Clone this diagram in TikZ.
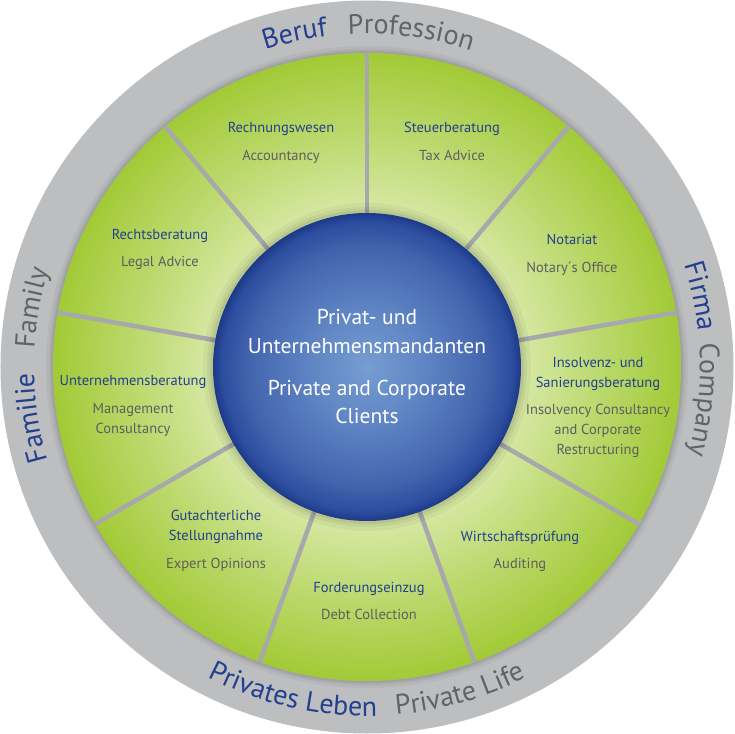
\documentclass[tikz,border=0pt]{standalone}
\usepackage{fontspec}
\setmainfont{PT Sans}
\usetikzlibrary{decorations.text}
\definecolor{ringgray}{HTML}{BDBEC0}
\definecolor{divgray}{HTML}{A6A8AB}
\definecolor{gpale}{HTML}{D6E8A3}
\definecolor{gmid}{HTML}{BEDA72}
\definecolor{ggreen}{HTML}{A2CA36}
\definecolor{bcenter}{HTML}{779DD2}
\definecolor{bmid}{HTML}{5D83C3}
\definecolor{bmid2}{HTML}{4465AE}
\definecolor{bedge2}{HTML}{2D4D9E}
\definecolor{bedge}{HTML}{1D3A8A}
\definecolor{titleblue}{HTML}{233F8F}
\definecolor{subgray}{HTML}{5D5E60}
\definecolor{ringtextgray}{HTML}{626365}
\pgfdeclareradialshading{greenring}{\pgfpointorigin}{color(0bp)=(gpale);color(12.6bp)=(gpale);color(18bp)=(gmid);color(25bp)=(ggreen);color(50bp)=(ggreen)}
\pgfdeclareradialshading{bluesphere}{\pgfpointorigin}{color(0bp)=(bcenter);color(10bp)=(bmid);color(19bp)=(bmid2);color(23.5bp)=(bedge2);color(25bp)=(bedge);color(50bp)=(bedge)}
\newcommand\ringfont{\fontsize{28}{28}\selectfont}
\tikzset{
  segtitle/.style={anchor=base,text=titleblue,font=\fontsize{14.5}{16}\selectfont},
  segsub/.style={anchor=base,text=subgray,font=\fontsize{14.5}{16}\selectfont},
  centertext/.style={anchor=base,text=white,font=\fontsize{21.5}{24}\selectfont},
  divider/.style={draw=divgray,line width=4.5pt},
  ringblue/.style={decorate,decoration={text along path,text align=center,text={|\ringfont\color{titleblue}|#1}}},
  ringgrey/.style={decorate,decoration={text along path,text align=center,text={|\ringfont\color{ringtextgray}|#1}}}
}
\begin{document}
\begin{tikzpicture}[x=1pt,y=1pt]
\useasboundingbox (-367,-367) rectangle (367,367);
% outer gray ring
\fill[ringgray] (0,0) circle (366.5);
% soft shadow under green disk
\fill[black,opacity=0.04] (0,0) circle (321);
\fill[black,opacity=0.05] (0,0) circle (318);
\fill[black,opacity=0.06] (0,0) circle (316);
% green disk
\shade[shading=greenring] (0,0) circle (314);
% dividers
\foreach \a in {90,50,10,-30,-70,-110,-150,170,130}{
  \coordinate (i\a) at (\a:150);
  \coordinate (o\a) at (\a:314.5);
  \draw[divider] (i\a) -- (o\a);
}
% shadow around blue circle
\fill[black,opacity=0.04] (0,0) circle (164);
\fill[black,opacity=0.05] (0,0) circle (160);
\fill[black,opacity=0.06] (0,0) circle (157);
% blue circle
\shade[shading=bluesphere] (0,0) circle (154);
% center text
\node[centertext] (c1) at (0,43) {Privat- und};
\node[centertext] (c2) at (0,14) {Unternehmensmandanten};
\node[centertext] (c3) at (0,-28) {Private and Corporate};
\node[centertext] (c4) at (0,-56) {Clients};
% segment texts
\node[segtitle] (t1) at (-86,234) {Rechnungswesen};
\node[segsub]   (s1) at (-86,206) {Accountancy};
\node[segtitle] (t2) at (85,234) {Steuerberatung};
\node[segsub]   (s2) at (85,206) {Tax Advice};
\node[segtitle] (t3) at (205,122) {Notariat};
\node[segsub]   (s3) at (205,95) {Notary´s Office};
\node[segtitle] (t4a) at (231,0) {Insolvenz- und};
\node[segtitle] (t4b) at (231,-20) {Sanierungsberatung};
\node[segsub]   (s4a) at (231,-47) {Insolvency Consultancy};
\node[segsub]   (s4b) at (231,-67) {and Corporate};
\node[segsub]   (s4c) at (231,-87) {Restructuring};
\node[segtitle] (t5) at (153,-174) {Wirtschaftsprüfung};
\node[segsub]   (s5) at (153,-201) {Auditing};
\node[segtitle] (t6) at (2,-225) {Forderungseinzug};
\node[segsub]   (s6) at (2,-252) {Debt Collection};
\node[segtitle] (t7a) at (-151,-153) {Gutachterliche};
\node[segtitle] (t7b) at (-151,-173) {Stellungnahme};
\node[segsub]   (s7) at (-151,-201) {Expert Opinions};
\node[segtitle] (t8) at (-234,-18) {Unternehmensberatung};
\node[segsub]   (s8a) at (-234,-46) {Management};
\node[segsub]   (s8b) at (-234,-66) {Consultancy};
\node[segtitle] (t9) at (-207,127) {Rechtsberatung};
\node[segsub]   (s9) at (-207,100) {Legal Advice};
% ring labels
\path[ringblue=Beruf] (132.3:333) arc[start angle=132.3,end angle=72.3,radius=333];
\path[ringgrey=Profession] (112.5:333) arc[start angle=112.5,end angle=52.5,radius=333];
\path[ringblue=Firma] (42:333) arc[start angle=42,end angle=-18,radius=333];
\path[ringgrey=Company] (24.4:333) arc[start angle=24.4,end angle=-35.6,radius=333];
\path[ringblue=Familie] (218.7:333) arc[start angle=218.7,end angle=158.7,radius=333];
\path[ringgrey=Family] (200:333) arc[start angle=200,end angle=140,radius=333];
\path[ringblue=Privates Leben] (227.2:349) arc[start angle=227.2,end angle=287.2,radius=349];
\path[ringgrey=Private Life] (256:349) arc[start angle=256,end angle=316,radius=349];
\end{tikzpicture}
\end{document}
